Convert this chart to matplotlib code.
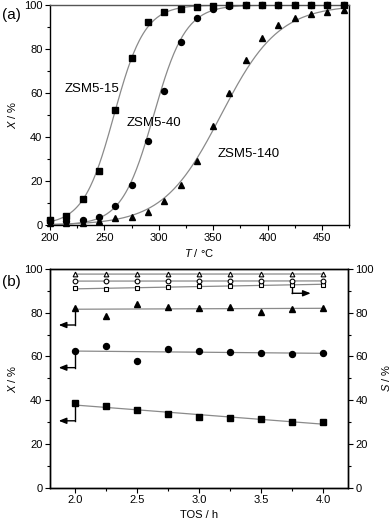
import numpy as np
import matplotlib
matplotlib.use("Agg")
import matplotlib.pyplot as plt
from matplotlib.ticker import MultipleLocator

plt.rcParams['font.family'] = ['Liberation Sans', 'DejaVu Sans']
plt.rcParams['mathtext.fontset'] = 'custom'
plt.rcParams['mathtext.it'] = 'Liberation Sans:italic'
plt.rcParams['mathtext.rm'] = 'Liberation Sans'

# (a) light-off curves, conversion vs temperature
temp = [200, 215, 230, 245, 260, 275, 290, 305, 320, 335, 350, 365, 380,
        395, 410, 425, 440, 455, 470]
x_zsm15 = [2.3, 4.1, 11.7, 24.5, 52.5, 76.0, 92.2, 97.0, 98.2, 99.0, 99.4,
           99.8, 99.9, 100, 100, 100, 100, 100, 100]
x_zsm40 = [2.3, 2.0, 2.2, 3.8, 8.7, 18.4, 38.0, 61.0, 83.4, 94.2, 98.0,
           99.4, 99.8, 99.9, 100, 100, 100, 100, 100]
x_zsm140 = [0.8, 1.0, 0.8, 1.7, 3.0, 3.5, 6.0, 10.7, 18.3, 29.2, 45.0,
            60.0, 75.0, 85.0, 90.8, 94.0, 96.0, 97.0, 97.6]
names_a = ['ZSM5-15', 'ZSM5-40', 'ZSM5-140']

# (b) time on stream, conversion (filled) and selectivity (open)
tos = [2.0, 2.25, 2.5, 2.75, 3.0, 3.25, 3.5, 3.75, 4.0]
conv_sq = [38.7, 37.2, 35.5, 33.7, 32.2, 32.0, 31.4, 30.2, 30.0]
conv_ci = [62.3, 64.8, 58.1, 63.4, 62.5, 62.2, 61.7, 61.0, 61.7]
conv_tr = [82.0, 78.4, 84.0, 82.8, 82.3, 82.6, 80.5, 81.6, 82.2]
sel_sq = [91.2, 90.7, 91.2, 91.9, 92.2, 92.4, 92.7, 92.8, 92.7]
sel_ci = [94.5, 94.5, 94.4, 94.5, 94.6, 94.5, 94.5, 94.5, 94.6]
sel_tr = [97.6, 97.7, 97.7, 97.7, 97.8, 97.7, 97.7, 97.7, 97.7]


def logistic_fit(x, y):
    # fit y = 100 / (1 + exp(-(x - x0)/dx)) through the logit of the data
    x = np.asarray(x, float)
    y = np.asarray(y, float)
    m = (y > 2.5) & (y < 98.5)
    z = np.log(y[m] / (100 - y[m]))
    a, b = np.polyfit(x[m], z, 1)
    xs = np.linspace(x.min(), x.max(), 300)
    return xs, 100 / (1 + np.exp(-(a * xs + b)))


fig = plt.figure(figsize=(3.92, 5.25), dpi=100)
ax1 = fig.add_axes([0.1276, 0.5714, 0.763, 0.419])
ax2 = fig.add_axes([0.1276, 0.071, 0.760, 0.4166])

gray = '#8a8a8a'
fs = 8

# panel (a)
for ys, mk in zip([x_zsm15, x_zsm40, x_zsm140], ['s', 'o', '^']):
    xs, yf = logistic_fit(temp, ys)
    ax1.plot(xs, yf, color=gray, lw=0.9, zorder=2)
    ax1.plot(temp, ys, mk, color='black', ms=4.3, ls='none', zorder=3,
             clip_on=False)

ax1.text(213, 62, names_a[0], fontsize=9.5, ha='left', va='center')
ax1.text(270, 46.5, names_a[1], fontsize=9.5, ha='left', va='center')
ax1.text(354, 32.5, names_a[2], fontsize=9.5, ha='left', va='center')

ax1.set_xlim(200, 475)
ax1.set_ylim(0, 100)
ax1.xaxis.set_major_locator(MultipleLocator(50))
ax1.xaxis.set_minor_locator(MultipleLocator(25))
ax1.yaxis.set_major_locator(MultipleLocator(20))
ax1.yaxis.set_minor_locator(MultipleLocator(10))
ax1.set_xlabel(r'$\mathit{T}$ / °C', fontsize=fs, labelpad=3)
ax1.set_ylabel(r'$\mathit{X}$ / %', fontsize=fs, labelpad=4)
fig.text(0.005, 0.972, '(a)', fontsize=11, ha='left', va='center')

# panel (b)
for ys, mk in zip([conv_sq, conv_ci, conv_tr], ['s', 'o', '^']):
    a, b = np.polyfit(tos, ys, 1)
    ax2.plot([tos[0], tos[-1]], [a * tos[0] + b, a * tos[-1] + b],
             color=gray, lw=0.9, zorder=2)
    ax2.plot(tos, ys, mk, color='black', ms=4.3, ls='none', zorder=3)
for ys, mk in zip([sel_sq, sel_ci, sel_tr], ['s', 'o', '^']):
    a, b = np.polyfit(tos, ys, 1)
    ax2.plot([tos[0], tos[-1]], [a * tos[0] + b, a * tos[-1] + b],
             color=gray, lw=0.9, zorder=2)
    ax2.plot(tos, ys, mk, mfc='white', mec='black', mew=0.8, ms=3.4,
             ls='none', zorder=3)

# axis pointer arrows
arrow_kw = dict(arrowstyle='-|>,head_length=0.45,head_width=0.18',
                color='black', lw=1.0, shrinkA=0, shrinkB=0)
for ys, y_turn in zip([conv_sq, conv_ci, conv_tr], [30.6, 54.9, 74.4]):
    ax2.plot([tos[0], tos[0]], [ys[0], y_turn], color='black', lw=1.0)
    ax2.annotate('', xy=(1.87, y_turn), xytext=(tos[0], y_turn),
                 arrowprops=arrow_kw)
ax2.plot([tos[7], tos[7]], [sel_sq[7], 88.9], color='black', lw=1.0)
ax2.annotate('', xy=(3.90, 88.9), xytext=(tos[7], 88.9), arrowprops=arrow_kw)

ax2.set_xlim(1.8, 4.2)
ax2.set_ylim(0, 100)
ax2.xaxis.set_major_locator(MultipleLocator(0.5))
ax2.xaxis.set_minor_locator(MultipleLocator(0.25))
ax2.yaxis.set_major_locator(MultipleLocator(20))
ax2.yaxis.set_minor_locator(MultipleLocator(10))
ax2.set_xlabel('TOS / h', fontsize=fs, labelpad=3)
ax2.set_ylabel(r'$\mathit{X}$ / %', fontsize=fs, labelpad=4)
ax2r = ax2.twinx()
ax2r.set_ylim(0, 100)
ax2r.yaxis.set_major_locator(MultipleLocator(20))
ax2r.yaxis.set_minor_locator(MultipleLocator(10))
ax2r.set_ylabel(r'$\mathit{S}$ / %', fontsize=fs, labelpad=4)
fig.text(0.005, 0.463, '(b)', fontsize=11, ha='left', va='center')

for ax in (ax1, ax2, ax2r):
    ax.tick_params(which='major', direction='out', length=3.5, width=0.8,
                   labelsize=fs, pad=2)
    ax.tick_params(which='minor', direction='out', length=2, width=0.8)
    for s in ax.spines.values():
        s.set_linewidth(1.0)
ax1.spines['top'].set_color('#555555')

fig.savefig('out.png', dpi=100)
